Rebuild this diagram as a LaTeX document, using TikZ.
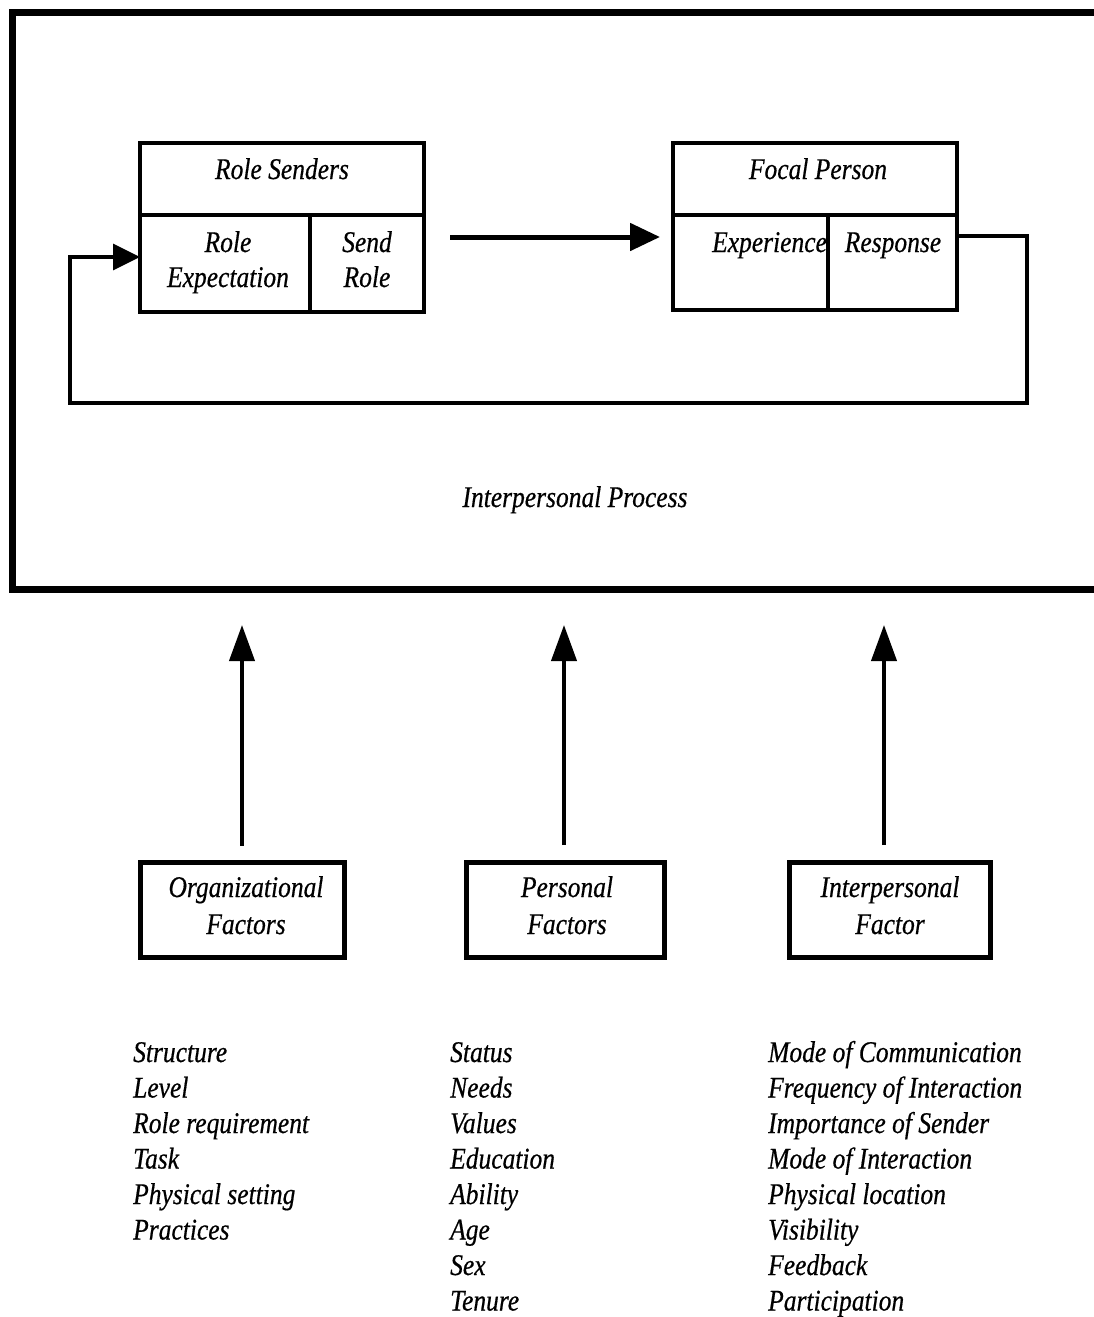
\documentclass[tikz,border=0pt]{standalone}
\usepackage{fontspec}
\newfontfamily\df[FakeStretch=0.85,FakeBold=0.5]{Liberation Serif}
\usetikzlibrary{arrows.meta,calc}
\begin{document}
\begin{tikzpicture}[x=1pt,y=-1pt,
  txt/.style={font=\df\itshape\fontsize{30}{36}\selectfont, inner sep=0, anchor=base},
  item/.style={txt, anchor=base west},
  cell/.style={draw, line width=4pt, inner sep=0, outer sep=0},
  fbox/.style={draw, line width=5pt, inner sep=0, outer sep=0, minimum height=95pt},
  bigarrow/.style={line width=5pt, -{Triangle[length=30pt,width=27pt]}},
  uparrow/.style={line width=4pt, -{Triangle[length=36pt,width=25pt]}},
  fbline/.style={line width=3.5pt, -{Triangle[length=27pt,width=26pt]}}
]
\useasboundingbox (0,0) rectangle (1094,1317);
\begin{scope}
\clip (0,0) rectangle (1094,1317);
\node[draw, line width=7pt, inner sep=0, outer sep=0, minimum width=1088pt, minimum height=577pt] (frame) at (556,300.5) {};
\end{scope}

% texts in top boxes
\node[txt] (tRS) at (282,179) {Role Senders};
\node[txt] (tRE1) at (228,252) {Role};
\node[txt] (tRE2) at (228,287) {Expectation};
\node[txt] (tSR1) at (367,252) {Send};
\node[txt] (tSR2) at (367,287) {Role};
\node[txt] (tFP) at (818,179) {Focal Person};
\node[item] (tEx) at (712,252) {Experience};
\node[txt] (tRp) at (893,252) {Response};

% top boxes
\node[cell, minimum width=284pt, minimum height=72pt] (rsT) at (282,179) {};
\node[cell, minimum width=170pt, minimum height=97pt] (rsE) at (225,263.5) {};
\node[cell, minimum width=114pt, minimum height=97pt] (rsS) at (367,263.5) {};
\node[cell, minimum width=284pt, minimum height=72pt] (fpT) at (815,179) {};
\node[cell, minimum width=155pt, minimum height=95pt] (fpE) at (750.5,262.5) {};
\node[cell, minimum width=129pt, minimum height=95pt] (fpR) at (892.5,262.5) {};

% middle arrow
\draw[bigarrow] ($(rsT.south east)+(26,22)$) -- ($(fpT.south west)+(-13,22)$);

% feedback loop
\coordinate (fbC) at (1027,403);
\coordinate (fbD) at (70,403);
\draw[fbline] ($(fpR.north east)+(0,21)$) -| (fbC) -- (fbD) |- ($(rsE.west)+(0,-6.5)$);

\node[txt] (tIP) at (575,507) {Interpersonal Process};

% bottom boxes
\node[fbox, minimum width=204pt] (org) at (242,910) {};
\node[fbox, minimum width=198pt] (per) at (565,909.5) {};
\node[fbox, minimum width=201pt] (ipf) at (889.5,909.5) {};
\node[txt] (tO1) at (246,897) {Organizational};
\node[txt] (tO2) at (246,934) {Factors};
\node[txt] (tP1) at (567,897) {Personal};
\node[txt] (tP2) at (567,934) {Factors};
\node[txt] (tI1) at (890,897) {Interpersonal};
\node[txt] (tI2) at (890,934) {Factor};

% up arrows
\draw[uparrow] ($(org.north)+(0,-17)$) -- ($(org.north |- frame.south)+(0,36)$);
\draw[uparrow] ($(per.north)+(-1,-17)$) -- ($(per.north |- frame.south)+(-1,36)$);
\draw[uparrow] ($(ipf.north)+(-5.5,-17)$) -- ($(ipf.north |- frame.south)+(-5.5,36)$);

% lists
\foreach \t [count=\i] in {Structure, Level, Role requirement, Task, Physical setting, Practices}
  \node[item] (o\i) at (133,1062+35.5*\i-35.5) {\t};
\foreach \t [count=\i] in {Status, Needs, Values, Education, Ability, Age, Sex, Tenure}
  \node[item] (p\i) at (450,1062+35.5*\i-35.5) {\t};
\foreach \t [count=\i] in {Mode of Communication, Frequency of Interaction, Importance of Sender, Mode of Interaction, Physical location, Visibility, Feedback, Participation}
  \node[item] (r\i) at (768,1062+35.5*\i-35.5) {\t};
\end{tikzpicture}
\end{document}
